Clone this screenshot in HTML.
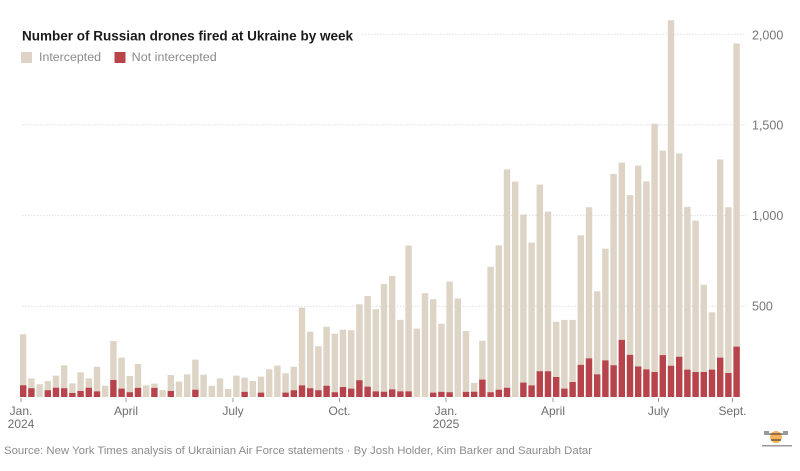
<!DOCTYPE html>
<html>
<head>
<meta charset="utf-8">
<style>
html,body{margin:0;padding:0;background:#fff;}
svg{display:block;font-family:"Liberation Sans",Arial,sans-serif;}
</style>
</head>
<body>
<svg width="800" height="471" viewBox="0 0 800 471" xmlns="http://www.w3.org/2000/svg">
<rect width="800" height="471" fill="#fff"/>
<g stroke="#dedede" stroke-width="1" stroke-dasharray="1.5,1.5">
<line x1="362" y1="34.2" x2="746" y2="34.2"/>
<line x1="22" y1="124.9" x2="746" y2="124.9"/>
<line x1="22" y1="215.6" x2="746" y2="215.6"/>
<line x1="22" y1="306.3" x2="746" y2="306.3"/>
</g>
<g fill="#777" font-size="12.5">
<text x="752" y="39.3">2,000</text>
<text x="752" y="129.5">1,500</text>
<text x="752" y="220.2">1,000</text>
<text x="752" y="310.5">500</text>
</g>
<text x="22" y="40.7" font-size="13.5" font-weight="bold" fill="#1a1a1a" textLength="331" lengthAdjust="spacingAndGlyphs">Number of Russian drones fired at Ukraine by week</text>
<rect x="21" y="52" width="11" height="11" fill="#ddd4c6"/>
<text x="39" y="61" font-size="11.5" fill="#8a8a8a" textLength="62" lengthAdjust="spacingAndGlyphs">Intercepted</text>
<rect x="114.5" y="52" width="11" height="11" fill="#b8444b"/>
<text x="131.7" y="61" font-size="11.5" fill="#8a8a8a" textLength="85" lengthAdjust="spacingAndGlyphs">Not intercepted</text>
<g transform="translate(20,397) scale(8.2,-0.1814)" fill="none" stroke-width="0.78">
<path stroke="#ddd4c6" d="M.39 0V346M1.39 0V103M2.39 0V70M3.39 0V88M4.39 0V118M5.39 0V175M6.39 0V75M7.39 0V136M8.39 0V103M9.39 0V167M10.39 0V62M11.39 0V309M12.39 0V217M13.39 0V116M14.39 0V182M15.39 0V64M16.39 0V74M17.39 0V38M18.39 0V121M19.39 0V85M20.39 0V125M21.39 0V206M22.39 0V123M23.39 0V62M24.39 0V103M25.39 0V44M26.39 0V118M27.39 0V107M28.39 0V88M29.39 0V112M30.39 0V153M31.39 0V173M32.39 0V131M33.39 0V167M34.39 0V493M35.39 0V360M36.39 0V280M37.39 0V388M38.39 0V349M39.39 0V371M40.39 0V368M41.39 0V511M42.39 0V557M43.39 0V484M44.39 0V623M45.39 0V667M46.39 0V425M47.39 0V835M48.39 0V377M49.39 0V572M50.39 0V539M51.39 0V404M52.39 0V636M53.39 0V544M54.39 0V364M55.39 0V77M56.39 0V310M57.39 0V718M58.39 0V836M59.39 0V1255M60.39 0V1187M61.39 0V1006M62.39 0V851M63.39 0V1171M64.39 0V1022M65.39 0V415M66.39 0V425M67.39 0V425M68.39 0V892M69.39 0V1046M70.39 0V583M71.39 0V818M72.39 0V1230M73.39 0V1292M74.39 0V1113M75.39 0V1276M76.39 0V1189M77.39 0V1506M78.39 0V1358M79.39 0V2077M80.39 0V1342M81.39 0V1049M82.39 0V972M83.39 0V619M84.39 0V467M85.39 0V1309M86.39 0V1046M87.39 0V1949"/>
<path stroke="#b8444b" d="M.39 0V65M1.39 0V48M3.39 0V37M4.39 0V51M5.39 0V48M6.39 0V22M7.39 0V33M8.39 0V51M9.39 0V31M11.39 0V94M12.39 0V46M13.39 0V26M14.39 0V50M16.39 0V50M18.39 0V33M21.39 0V40M27.39 0V28M29.39 0V24M32.39 0V24M33.39 0V37M34.39 0V64M35.39 0V48M36.39 0V37M37.39 0V62M38.39 0V26M39.39 0V55M40.39 0V46M41.39 0V92M42.39 0V57M43.39 0V31M44.39 0V29M45.39 0V42M46.39 0V31M47.39 0V31M50.39 0V24M51.39 0V28M52.39 0V26M54.39 0V28M55.39 0V29M56.39 0V96M57.39 0V26M58.39 0V40M59.39 0V51M61.39 0V79M62.39 0V64M63.39 0V142M64.39 0V142M65.39 0V110M66.39 0V46M67.39 0V83M68.39 0V177M69.39 0V213M70.39 0V125M71.39 0V202M72.39 0V175M73.39 0V315M74.39 0V232M75.39 0V168M76.39 0V152M77.39 0V138M78.39 0V231M79.39 0V172M80.39 0V222M81.39 0V151M82.39 0V138M83.39 0V138M84.39 0V151M85.39 0V217M86.39 0V132M87.39 0V278"/>
</g>
<path stroke="#999" stroke-width="1" fill="none" d="M21 398V402M126 398V402M233 398V402M339.5 398V402M446 398V402M553 398V402M658.5 398V402M732.5 398V402"/>
<g fill="#6e6e6e" font-size="12" text-anchor="middle">
<text x="21" y="415">Jan.</text>
<text x="21" y="428">2024</text>
<text x="126" y="415">April</text>
<text x="233" y="415">July</text>
<text x="339.5" y="415">Oct.</text>
<text x="446" y="415">Jan.</text>
<text x="446" y="428">2025</text>
<text x="553" y="415">April</text>
<text x="658.5" y="415">July</text>
<text x="732.5" y="415">Sept.</text>
</g>
<text x="4" y="454" font-size="11" fill="#8c8c8c" textLength="588" lengthAdjust="spacingAndGlyphs">Source: New York Times analysis of Ukrainian Air Force statements  ·  By Josh Holder, Kim Barker and Saurabh Datar</text>
<circle cx="776" cy="437" r="6" fill="#f2a541" opacity="0.85"/>
<path stroke="#333" stroke-width="1" fill="none" d="M764 434H788M764 432H769M783 432H788M771 440H781"/>
<rect x="762" y="445" width="30" height="1.5" fill="#9a9a9a"/>
</svg>
</body>
</html>
